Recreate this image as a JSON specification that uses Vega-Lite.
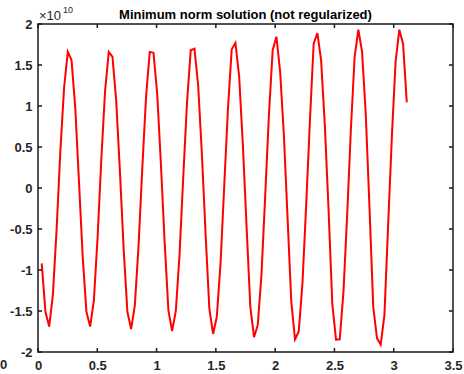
{
  "$schema": "https://vega.github.io/schema/vega-lite/v6.json",
  "width": 415,
  "height": 328,
  "autosize": "none",
  "padding": {"left": 38, "top": 24, "right": 11, "bottom": 22},
  "background": "white",
  "config": {
    "font": "Liberation Sans",
    "view": {"stroke": "#1a1a1a", "strokeWidth": 1.5},
    "axis": {
      "grid": false,
      "domain": false,
      "ticks": false,
      "labelColor": "#262626",
      "labelFont": "Liberation Sans",
      "labelFontSize": 13,
      "labelFontWeight": "bold",
      "title": null
    }
  },
  "datasets": {
    "curve": [
      {"x": 0.0314, "y": -0.92}, {"x": 0.0628, "y": -1.51}, {"x": 0.0942, "y": -1.69}, {"x": 0.1257, "y": -1.30},
      {"x": 0.1571, "y": -0.50}, {"x": 0.1885, "y": 0.45}, {"x": 0.2199, "y": 1.22}, {"x": 0.2513, "y": 1.66},
      {"x": 0.2827, "y": 1.56}, {"x": 0.3142, "y": 0.98}, {"x": 0.3456, "y": 0.08}, {"x": 0.3770, "y": -0.84},
      {"x": 0.4084, "y": -1.51}, {"x": 0.4398, "y": -1.69}, {"x": 0.4712, "y": -1.37}, {"x": 0.5027, "y": -0.60},
      {"x": 0.5341, "y": 0.35}, {"x": 0.5655, "y": 1.18}, {"x": 0.5969, "y": 1.66}, {"x": 0.6283, "y": 1.60},
      {"x": 0.6597, "y": 1.06}, {"x": 0.6912, "y": 0.19}, {"x": 0.7226, "y": -0.75}, {"x": 0.7540, "y": -1.51},
      {"x": 0.7854, "y": -1.72}, {"x": 0.8168, "y": -1.43}, {"x": 0.8482, "y": -0.70}, {"x": 0.8796, "y": 0.24},
      {"x": 0.9111, "y": 1.11}, {"x": 0.9425, "y": 1.66}, {"x": 0.9739, "y": 1.65}, {"x": 1.0053, "y": 1.15},
      {"x": 1.0367, "y": 0.29}, {"x": 1.0681, "y": -0.66}, {"x": 1.0996, "y": -1.49}, {"x": 1.1310, "y": -1.745},
      {"x": 1.1624, "y": -1.50}, {"x": 1.1938, "y": -0.81}, {"x": 1.2252, "y": 0.14}, {"x": 1.2566, "y": 1.04},
      {"x": 1.2881, "y": 1.68}, {"x": 1.3195, "y": 1.70}, {"x": 1.3509, "y": 1.25}, {"x": 1.3823, "y": 0.41},
      {"x": 1.4137, "y": -0.57}, {"x": 1.4451, "y": -1.47}, {"x": 1.4765, "y": -1.78}, {"x": 1.5080, "y": -1.57},
      {"x": 1.5394, "y": -0.92}, {"x": 1.5708, "y": 0.03}, {"x": 1.6022, "y": 0.97}, {"x": 1.6336, "y": 1.69},
      {"x": 1.6650, "y": 1.77}, {"x": 1.6965, "y": 1.36}, {"x": 1.7279, "y": 0.52}, {"x": 1.7593, "y": -0.48},
      {"x": 1.7907, "y": -1.45}, {"x": 1.8221, "y": -1.82}, {"x": 1.8535, "y": -1.67}, {"x": 1.8850, "y": -1.05},
      {"x": 1.9164, "y": -0.09}, {"x": 1.9478, "y": 0.90}, {"x": 1.9792, "y": 1.68}, {"x": 2.0106, "y": 1.845},
      {"x": 2.0420, "y": 1.42}, {"x": 2.0735, "y": 0.65}, {"x": 2.1049, "y": -0.37}, {"x": 2.1363, "y": -1.39},
      {"x": 2.1677, "y": -1.845}, {"x": 2.1991, "y": -1.75}, {"x": 2.2305, "y": -1.16}, {"x": 2.2619, "y": -0.20},
      {"x": 2.2934, "y": 0.82}, {"x": 2.3248, "y": 1.76}, {"x": 2.3562, "y": 1.89}, {"x": 2.3876, "y": 1.56},
      {"x": 2.4190, "y": 0.77}, {"x": 2.4504, "y": -0.26}, {"x": 2.4819, "y": -1.41}, {"x": 2.5133, "y": -1.85},
      {"x": 2.5447, "y": -1.845}, {"x": 2.5761, "y": -1.27}, {"x": 2.6075, "y": -0.33}, {"x": 2.6389, "y": 0.72},
      {"x": 2.6704, "y": 1.60}, {"x": 2.7018, "y": 1.93}, {"x": 2.7332, "y": 1.66}, {"x": 2.7646, "y": 0.89},
      {"x": 2.7960, "y": -0.25}, {"x": 2.8274, "y": -1.45}, {"x": 2.8588, "y": -1.83}, {"x": 2.8903, "y": -1.91},
      {"x": 2.9217, "y": -1.55}, {"x": 2.9531, "y": -0.45}, {"x": 2.9845, "y": 0.63}, {"x": 3.0159, "y": 1.54},
      {"x": 3.0473, "y": 1.93}, {"x": 3.0788, "y": 1.76}, {"x": 3.1102, "y": 1.045}
    ],
    "xticks": [{"v": 0}, {"v": 0.5}, {"v": 1}, {"v": 1.5}, {"v": 2}, {"v": 2.5}, {"v": 3}, {"v": 3.5}],
    "yticks": [{"v": -2}, {"v": -1.5}, {"v": -1}, {"v": -0.5}, {"v": 0}, {"v": 0.5}, {"v": 1}, {"v": 1.5}, {"v": 2}]
  },
  "layer": [
    {
      "data": {"name": "curve"},
      "mark": {"type": "line", "color": "#ff0000", "strokeWidth": 2},
      "encoding": {
        "x": {
          "field": "x", "type": "quantitative",
          "scale": {"domain": [0, 3.5], "nice": false, "zero": false},
          "axis": {"orient": "bottom", "values": [0, 0.5, 1, 1.5, 2, 2.5, 3, 3.5], "labelExpr": "'' + datum.value", "labelPadding": 7, "labelFlush": false}
        },
        "y": {
          "field": "y", "type": "quantitative",
          "scale": {"domain": [-2, 2], "nice": false, "zero": false},
          "axis": {"orient": "left", "values": [-2, -1.5, -1, -0.5, 0, 0.5, 1, 1.5, 2], "labelExpr": "'' + datum.value", "labelPadding": 6}
        }
      }
    },
    {
      "data": {"name": "xticks"},
      "mark": {"type": "rule", "color": "#1a1a1a", "strokeWidth": 1.5},
      "encoding": {"x": {"field": "v", "type": "quantitative"}, "y": {"datum": -2}, "y2": {"datum": -1.951}}
    },
    {
      "data": {"name": "xticks"},
      "mark": {"type": "rule", "color": "#1a1a1a", "strokeWidth": 1.5},
      "encoding": {"x": {"field": "v", "type": "quantitative"}, "y": {"datum": 2}, "y2": {"datum": 1.951}}
    },
    {
      "data": {"name": "yticks"},
      "mark": {"type": "rule", "color": "#1a1a1a", "strokeWidth": 1.5},
      "encoding": {"y": {"field": "v", "type": "quantitative"}, "x": {"datum": 0}, "x2": {"datum": 0.034}}
    },
    {
      "data": {"name": "yticks"},
      "mark": {"type": "rule", "color": "#1a1a1a", "strokeWidth": 1.5},
      "encoding": {"y": {"field": "v", "type": "quantitative"}, "x": {"datum": 3.5}, "x2": {"datum": 3.466}}
    },
    {
      "data": {"values": [{}]},
      "mark": {"type": "text", "text": "Minimum norm solution (not regularized)", "align": "center", "baseline": "alphabetic", "fontSize": 13, "fontWeight": "bold", "color": "#000000", "dy": -5},
      "encoding": {"x": {"datum": 1.75}, "y": {"datum": 2}}
    },
    {
      "data": {"values": [{}]},
      "mark": {"type": "text", "text": "×10", "align": "left", "baseline": "alphabetic", "fontSize": 13, "color": "#262626", "dx": 1, "dy": -4},
      "encoding": {"x": {"datum": 0}, "y": {"datum": 2}}
    },
    {
      "data": {"values": [{}]},
      "mark": {"type": "text", "text": "10", "align": "left", "baseline": "alphabetic", "fontSize": 9, "color": "#262626", "dx": 25, "dy": -11},
      "encoding": {"x": {"datum": 0}, "y": {"datum": 2}}
    },
    {
      "data": {"values": [{}]},
      "mark": {"type": "text", "text": "0", "align": "center", "baseline": "top", "fontSize": 13, "fontWeight": "bold", "color": "#262626", "dy": 7},
      "encoding": {"x": {"datum": -0.29}, "y": {"datum": -2}}
    }
  ]
}
